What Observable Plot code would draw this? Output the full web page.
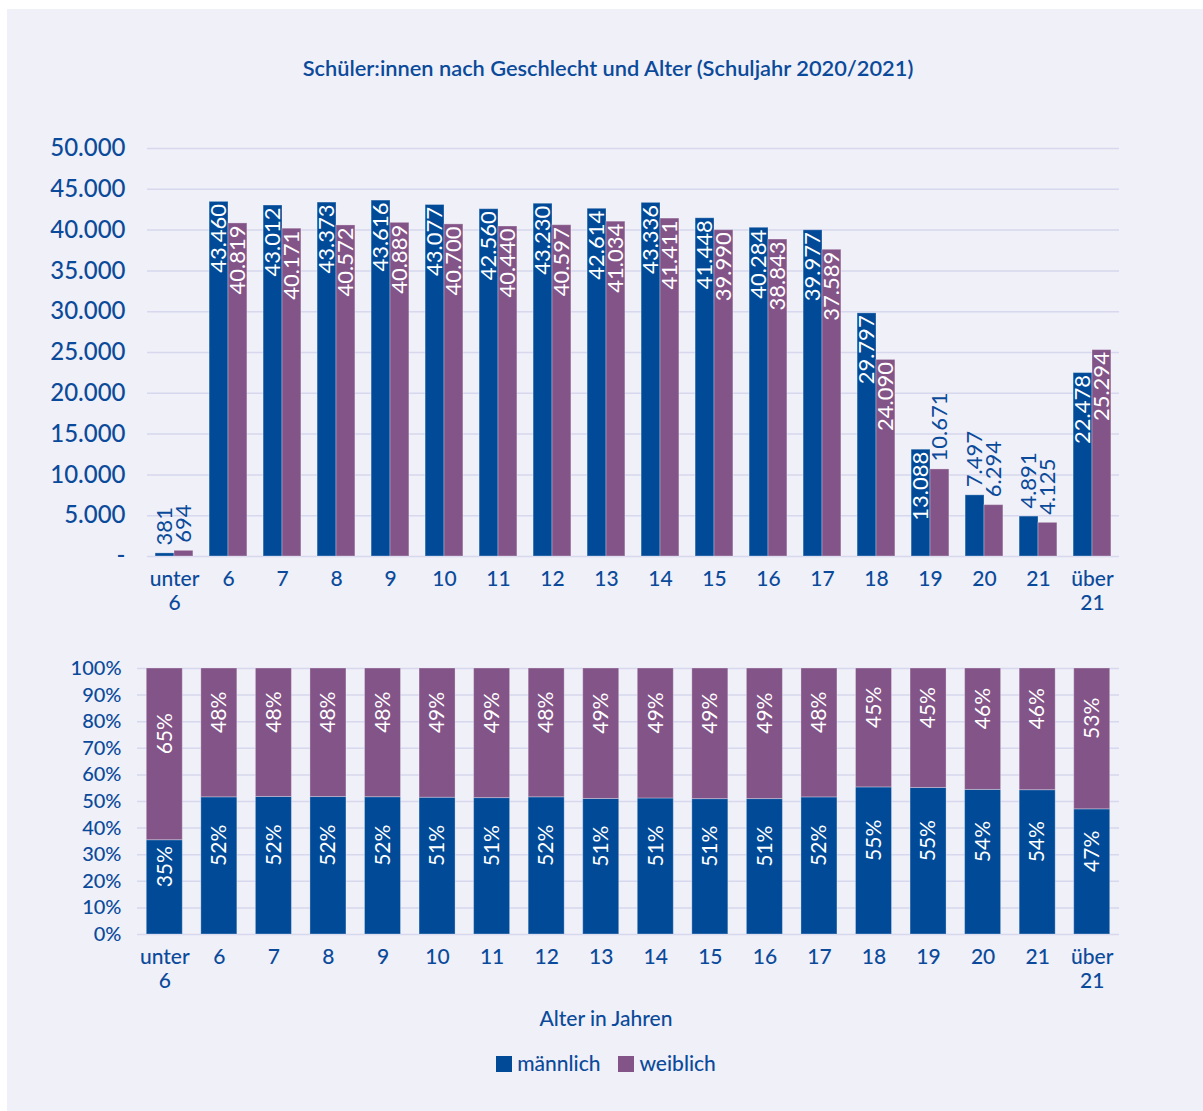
<!DOCTYPE html>
<html><head><meta charset="utf-8">
<script src="https://cdn.jsdelivr.net/npm/d3@7"></script>
<script src="https://cdn.jsdelivr.net/npm/@observablehq/plot@0.6"></script>
<style>
html,body{margin:0;padding:0;background:#fff;}
#root{position:relative;width:1203px;height:1111px;font-family:Lato,"Open Sans",sans-serif;color:#0b4a9a;overflow:hidden;}
#card{position:absolute;left:7px;top:9px;width:1196px;height:1102px;background:#eff0f8;}
.abs{position:absolute;}
.sw{display:inline-block;width:16px;height:16px;vertical-align:-1px;margin-right:5px;}
</style></head><body>
<div id="root">
  <div id="card"></div>
  <div id="title" class="abs" style="left:0;width:1216px;top:54px;text-align:center;font-size:21.8px;font-weight:600;">Schüler:innen nach Geschlecht und Alter (Schuljahr 2020/2021)</div>
  <div id="top" class="abs" style="left:0;top:120px;"></div>
  <div id="bottom" class="abs" style="left:0;top:640px;"></div>
  <div id="xtitle" class="abs" style="left:0;width:1212px;top:1005px;text-align:center;font-size:21px;font-weight:500;">Alter in Jahren</div>
  <div id="legend" class="abs" style="left:0;width:1212px;top:1050px;text-align:center;font-size:21px;font-weight:500;"></div>
</div>
<script>
const ages = ["unter 6","6","7","8","9","10","11","12","13","14","15","16","17","18","19","20","21","über 21"];
const maennlich = [381,43460,43012,43373,43616,43077,42560,43230,42614,43336,41448,40284,39977,29797,13088,7497,4891,22478];
const weiblich  = [694,40819,40171,40572,40889,40700,40440,40597,41034,41411,39990,38843,37589,24090,10671,6294,4125,25294];
const seriesNames = ["männlich","weiblich"];
const seriesColors = ["#004a98","#835488"];
const yTicksTop = [0,5000,10000,15000,20000,25000,30000,35000,40000,45000,50000];
const yTicksBottom = [0,0.1,0.2,0.3,0.4,0.5,0.6,0.7,0.8,0.9,1];

const textBlue = "#0b4a9a";
const gridColor = "#d7d7ee";
const de = d3.formatLocale({decimal:",", thousands:".", grouping:[3], currency:["","€"]});
const fmt = de.format(",");
const tickLabel = d => d.replace(" ", "\n");

const rows = ages.flatMap((a,i) => [
  {age:a, sex:seriesNames[0], v:maennlich[i]},
  {age:a, sex:seriesNames[1], v:weiblich[i]}
]);
const inside = d => d.v > 12000;
const M = rows.filter(d => d.sex === seriesNames[0]);
const W = rows.filter(d => d.sex === seriesNames[1]);
const half = 54 * 0.7 / 2;

const topPlot = Plot.plot({
  width: 1203, height: 500,
  marginLeft: 147, marginRight: 84, marginTop: 28, marginBottom: 64,
  style: {background: "transparent", color: textBlue, fontFamily: "Lato, 'Open Sans', sans-serif"},
  x: {domain: ages, paddingInner: 0.3, paddingOuter: 0.15, round: false},
  y: {domain: [0, 50000]},
  marks: [
    Plot.gridY({ticks: yTicksTop, stroke: gridColor, strokeOpacity: 1, strokeWidth: 1.5}),
    Plot.axisY({ticks: yTicksTop, label: null, tickSize: 0, tickPadding: 22, fontSize: 24, fontWeight: 500, tickFormat: d => d === 0 ? "-" : fmt(d)}),
    Plot.axisX({label: null, tickSize: 0, tickPadding: 12, fontSize: 21, fontWeight: 500, lineHeight: 1.15, tickFormat: tickLabel}),
    Plot.barY(M, {x: "age", y: "v", fill: seriesColors[0], insetRight: half, stroke: "#fff", strokeOpacity: 0.3}),
    Plot.barY(W, {x: "age", y: "v", fill: seriesColors[1], insetLeft: half, stroke: "#fff", strokeOpacity: 0.3}),
    Plot.text(M.filter(inside), {x: "age", y: "v", text: d => fmt(d.v), rotate: -90, textAnchor: "end", lineAnchor: "middle", dx: -half/2, dy: 2, fill: "white", fontSize: 22}),
    Plot.text(W.filter(inside), {x: "age", y: "v", text: d => fmt(d.v), rotate: -90, textAnchor: "end", lineAnchor: "middle", dx: half/2, dy: 2, fill: "white", fontSize: 22}),
    Plot.text(M.filter(d => !inside(d)), {x: "age", y: "v", text: d => fmt(d.v), rotate: -90, textAnchor: "start", lineAnchor: "middle", dx: -half/2, dy: -8, fill: textBlue, fontSize: 22}),
    Plot.text(W.filter(d => !inside(d)), {x: "age", y: "v", text: d => fmt(d.v), rotate: -90, textAnchor: "start", lineAnchor: "middle", dx: half/2, dy: -8, fill: textBlue, fontSize: 22})
  ]
});
document.getElementById("top").appendChild(topPlot);

const segs = ages.flatMap((a,i) => {
  const t = maennlich[i] + weiblich[i];
  const m = maennlich[i] / t;
  return [
    {age:a, sex:seriesNames[0], y1:0, y2:m, share:m},
    {age:a, sex:seriesNames[1], y1:m, y2:1, share:1-m}
  ];
});

const bottomPlot = Plot.plot({
  width: 1203, height: 370,
  marginLeft: 137, marginRight: 84, marginTop: 28, marginBottom: 76,
  style: {background: "transparent", color: textBlue, fontFamily: "Lato, 'Open Sans', sans-serif"},
  x: {domain: ages, paddingInner: 0.34, paddingOuter: 0.17, round: false},
  y: {domain: [0, 1]},
  color: {domain: seriesNames, range: seriesColors},
  marks: [
    Plot.gridY({ticks: yTicksBottom, stroke: gridColor, strokeOpacity: 1, strokeWidth: 1.5}),
    Plot.axisY({ticks: yTicksBottom, label: null, tickSize: 0, tickPadding: 16, fontSize: 20, fontWeight: 500, tickFormat: d => Math.round(d*100) + "%"}),
    Plot.axisX({label: null, tickSize: 0, tickPadding: 12, fontSize: 21, fontWeight: 500, lineHeight: 1.15, tickFormat: tickLabel}),
    Plot.barY(segs, {x: "age", y1: "y1", y2: "y2", fill: "sex", stroke: "#fff", strokeOpacity: 0.3}),
    Plot.text(segs, {x: "age", y: d => (d.y1 + d.y2) / 2, text: d => Math.round(d.share*100) + "%", rotate: -90, textAnchor: "start", lineAnchor: "middle", fill: "white", fontSize: 21})
  ]
});
document.getElementById("bottom").appendChild(bottomPlot);

const legend = document.getElementById("legend");
legend.innerHTML = seriesNames.map((n,i) =>
  `<span style="margin:0 9px;"><span class="sw" style="background:${seriesColors[i]}"></span>${n}</span>`
).join("");
</script>
</body></html>
